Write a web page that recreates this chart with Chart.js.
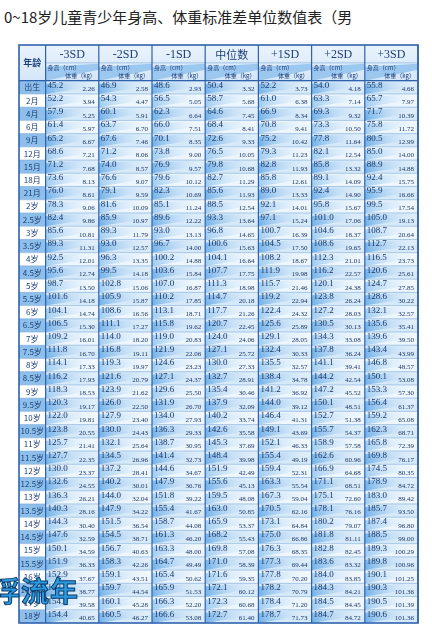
<!DOCTYPE html>
<html>
<head>
<meta charset="utf-8">
<script src="https://cdn.jsdelivr.net/npm/chart.js@4"></script>
<style>
  body { margin:0; background:#fff; width:432px; height:638px; overflow:hidden; position:relative; }
  #title { position:absolute; top:6px; left:4px; font:15px "Noto Sans CJK SC", sans-serif; color:#222; white-space:nowrap; }
  #wrap { position:absolute; left:0; top:0; width:432px; height:638px; }
  #mark { position:absolute; left:-8px; top:570px; font:bold 28px "Noto Sans CJK SC", sans-serif; color:#2a9be0; -webkit-text-stroke:1px #0b3a6a; letter-spacing:1px; }
</style>
</head>
<body>
<div id="title">0~18岁儿童青少年身高、体重标准差单位数值表（男</div>
<div id="wrap"><canvas id="c" width="432" height="638"></canvas></div>
<div id="mark">浮流年</div>
<script>
const ages = ['出生','2月','4月','6月','9月','12月','15月','18月','21月','2岁','2.5岁','3岁','3.5岁','4岁','4.5岁','5岁','5.5岁','6岁','6.5岁','7岁','7.5岁','8岁','8.5岁','9岁','9.5岁','10岁','10.5岁','11岁','11.5岁','12岁','12.5岁','13岁','13.5岁','14岁','14.5岁','15岁','15.5岁','16岁','16.5岁','17岁','18岁'];
const groups = ['-3SD','-2SD','-1SD','中位数','+1SD','+2SD','+3SD'];

const hM3 = [45.2,52.2,57.9,61.4,65.2,68.6,71.2,73.6,76.0,78.3,82.4,85.6,89.3,92.5,95.6,98.7,101.6,104.1,106.5,109.2,111.8,114.1,116.2,118.3,120.3,122.0,123.8,125.7,127.7,130.0,132.6,136.3,140.3,144.3,147.6,150.1,151.9,152.9,153.5,154.0,154.4];
const wM3 = [2.26,3.94,5.25,5.97,6.67,7.21,7.68,8.13,8.61,9.06,9.86,10.81,11.31,12.01,12.74,13.50,14.18,14.74,15.30,16.01,16.70,17.33,17.93,18.53,19.17,19.81,20.55,21.41,22.35,23.37,24.55,26.21,28.16,30.40,32.59,34.59,36.33,37.67,38.77,39.58,40.65];
const hM2 = [46.9,54.3,60.1,63.7,67.6,71.2,74.0,76.6,79.1,81.6,85.9,89.3,93.0,96.3,99.5,102.8,105.9,108.6,111.1,114.0,116.8,119.3,121.6,123.9,126.0,127.9,130.0,132.1,134.5,137.2,140.2,144.0,147.9,151.5,154.5,156.7,158.3,159.1,159.7,160.1,160.5];
const wM2 = [2.58,4.47,5.91,6.70,7.46,8.06,8.57,9.07,9.59,10.09,10.97,11.79,12.57,13.35,14.18,15.06,15.87,16.56,17.27,18.20,19.11,19.97,20.79,21.62,22.50,23.40,24.43,25.64,26.96,28.41,30.01,32.04,34.22,36.54,38.71,40.63,42.26,43.51,44.54,45.28,46.27];
const hM1 = [48.6,56.5,62.3,66.0,70.1,73.8,76.9,79.6,82.3,85.1,89.6,93.0,96.7,100.2,103.6,107.0,110.2,113.1,115.8,119.0,121.9,124.6,127.1,129.6,131.9,134.0,136.3,138.7,141.4,144.6,147.9,151.8,155.4,158.7,161.3,163.3,164.7,165.4,165.9,166.3,166.6];
const wM1 = [2.93,5.05,6.64,7.51,8.35,9.00,9.57,10.12,10.69,11.24,12.22,13.13,14.00,14.88,15.84,16.87,17.85,18.71,19.62,20.83,22.06,23.23,24.37,25.50,26.70,27.93,29.33,30.95,32.73,34.67,36.76,39.22,41.67,44.08,46.20,48.00,49.49,50.62,51.53,52.20,53.08];
const hMed = [50.4,58.7,64.6,68.4,72.6,76.5,79.8,82.7,85.6,88.5,93.3,96.8,100.6,104.1,107.7,111.3,114.7,117.7,120.7,124.0,127.1,130.0,132.7,135.4,137.9,140.2,142.6,145.3,148.4,151.9,155.6,159.5,163.0,165.9,168.2,169.8,171.0,171.6,172.1,172.3,172.7];
const wMed = [3.32,5.68,7.45,8.41,9.33,10.05,10.68,11.29,11.93,12.54,13.64,14.65,15.63,16.64,17.75,18.98,20.18,21.26,22.45,24.06,25.72,27.33,28.91,30.46,32.09,33.74,35.58,37.69,39.98,42.49,45.13,48.08,50.85,53.37,55.43,57.08,58.39,59.35,60.12,60.68,61.40];
const hP1 = [52.2,61.0,66.9,70.8,75.2,79.3,82.8,85.8,89.0,92.1,97.1,100.7,104.5,108.2,111.9,115.7,119.2,122.4,125.6,129.1,132.4,135.5,138.4,141.2,144.0,146.4,149.1,152.1,155.4,159.4,163.3,167.3,170.5,173.1,175.0,176.3,177.3,177.8,178.2,178.4,178.7];
const wP1 = [3.73,6.38,8.34,9.41,10.42,11.23,11.93,12.61,13.33,14.01,15.24,16.39,17.50,18.67,19.98,21.46,22.94,24.32,25.89,28.05,30.33,32.57,34.78,36.92,39.12,41.31,43.69,46.33,49.19,52.31,55.54,59.04,62.16,64.84,66.86,68.35,69.44,70.20,70.79,71.20,71.73];
const hP2 = [54.0,63.3,69.3,73.3,77.8,82.1,85.8,89.1,92.4,95.8,101.0,104.6,108.6,112.3,116.2,120.1,123.8,127.2,130.5,134.3,137.8,141.1,144.2,147.2,150.1,152.7,155.7,158.9,162.6,166.9,171.1,175.1,178.1,180.2,181.8,182.8,183.6,184.0,184.3,184.5,184.7];
const wP2 = [4.18,7.14,9.32,10.50,11.64,12.54,13.32,14.09,14.90,15.67,17.06,18.37,19.65,21.01,22.57,24.38,26.24,28.03,30.13,33.08,36.24,39.41,42.54,45.52,48.51,51.38,54.37,57.58,60.96,64.68,68.51,72.60,76.16,79.07,81.11,82.45,83.32,83.85,84.21,84.45,84.72];
const hP3 = [55.8,65.7,71.7,75.8,80.5,85.0,88.9,92.4,95.9,99.5,105.0,108.7,112.7,116.5,120.6,124.7,128.6,132.1,135.6,139.6,143.4,146.8,150.1,153.3,156.4,159.2,162.3,165.8,169.8,174.5,178.9,183.0,185.7,187.4,188.5,189.3,189.8,190.1,190.3,190.5,190.6];
const wP3 = [4.66,7.97,10.39,11.72,12.99,14.00,14.88,15.75,16.66,17.54,19.13,20.64,22.13,23.73,25.61,27.85,30.22,32.57,35.41,39.50,43.99,48.57,53.08,57.30,61.37,65.08,68.71,72.39,76.17,80.35,84.72,89.42,93.50,96.80,99.00,100.29,100.96,101.25,101.36,101.39,101.36];

const heights = [hM3, hM2, hM1, hMed, hP1, hP2, hP3];
const weights = [wM3, wM2, wM1, wMed, wP1, wP2, wP3];

// column layout in x units: age column 0..0.5, group g spans 0.5+g .. 1.5+g
const AGE_W = 0.5;
const H1 = -2.7, H2 = -1.35; // header rows

const cells = [];
ages.forEach((a, i) => groups.forEach((g, j) => cells.push({ x: AGE_W + j + 0.5, y: i + 0.5, r: i, g: j })));

const BORDER = '#2f62ad';

const tablePlugin = {
    id: 'table',
    afterDatasetsDraw(chart) {
        const ctx = chart.ctx, xs = chart.scales.x, ys = chart.scales.y;
        const px = v => xs.getPixelForValue(v), py = v => ys.getPixelForValue(v);
        const left = px(0), right = px(AGE_W + groups.length);
        ctx.save();

        // header backgrounds
        let hg = ctx.createLinearGradient(0, py(H1), 0, py(0));
        hg.addColorStop(0, '#eaf3fc'); hg.addColorStop(1, '#d3e6f8');
        ctx.fillStyle = hg;
        ctx.fillRect(left, py(H1), right - left, py(0) - py(H1));
        groups.forEach((g, j) => {
            const x0 = px(AGE_W + j), x1 = px(AGE_W + j + 1), y0 = py(H2), y1 = py(0);
            ctx.fillStyle = '#9cc8ef';
            ctx.beginPath(); ctx.moveTo(x0, y0 + 4); ctx.lineTo(x1, y0 + 1); ctx.lineTo(x1, y0 + 7); ctx.lineTo(x0, y1); ctx.closePath(); ctx.fill();
        });

        // data rows
        ages.forEach((a, i) => {
            const y0 = py(i), y1 = py(i + 1);
            ctx.fillStyle = i % 2 === 0 ? '#8dbfea' : '#ffffff';
            ctx.fillRect(left, y0, px(AGE_W) - left, y1 - y0);
            groups.forEach((g, j) => {
                const x0 = px(AGE_W + j), x1 = px(AGE_W + j + 1);
                ctx.fillStyle = i % 2 === 0 ? '#d6e9f9' : '#eef6fd';
                ctx.fillRect(x0, y0, x1 - x0, y1 - y0);
                const gr = ctx.createLinearGradient(x0, y1, x1, y0);
                gr.addColorStop(0, i % 2 === 0 ? '#6fb0e8' : '#9ccbf1');
                gr.addColorStop(1, 'rgba(255,255,255,0.2)');
                ctx.fillStyle = gr;
                ctx.beginPath(); ctx.moveTo(x0, y0 + 3); ctx.lineTo(x1, y0); ctx.lineTo(x1, y0 + 5); ctx.lineTo(x0, y1); ctx.closePath(); ctx.fill();
            });
        });

        // grid lines
        ctx.strokeStyle = '#7aa8d8'; ctx.lineWidth = 0.6;
        ages.forEach((a, i) => { ctx.beginPath(); ctx.moveTo(left, py(i)); ctx.lineTo(right, py(i)); ctx.stroke(); });
        ctx.beginPath(); ctx.moveTo(px(AGE_W), py(H2)); ctx.lineTo(right, py(H2)); ctx.stroke();
        ctx.strokeStyle = BORDER; ctx.lineWidth = 1.2;
        for (let j = 0; j <= groups.length; j++) {
            const x = px(AGE_W + j);
            ctx.beginPath(); ctx.moveTo(x, py(H1)); ctx.lineTo(x, py(ages.length)); ctx.stroke();
        }
        ctx.beginPath(); ctx.moveTo(left, py(0)); ctx.lineTo(right, py(0)); ctx.stroke();
        ctx.lineWidth = 1.6;
        ctx.strokeRect(left, py(H1), right - left, py(ages.length) - py(H1));

        // header text
        ctx.fillStyle = '#1d3f78'; ctx.textBaseline = 'middle';
        ctx.textAlign = 'center';
        ctx.font = 'bold 9px "Noto Sans CJK SC"';
        ctx.fillText('年龄', px(AGE_W / 2), (py(H1) + py(0)) / 2);
        groups.forEach((g, j) => {
            const xc = px(AGE_W + j + 0.5);
            ctx.textAlign = 'center';
            ctx.font = g === '中位数' ? '11px "Noto Sans CJK SC"' : '12px "Liberation Serif"';
            ctx.fillText(g, xc, (py(H1) + py(H2)) / 2 + 1);
            ctx.font = '6px "Noto Sans CJK SC"';
            ctx.textAlign = 'left';
            ctx.fillText('身高（cm）', px(AGE_W + j) + 2, py(H2) + 5);
            ctx.textAlign = 'right';
            ctx.fillText('体重（kg）', px(AGE_W + j + 1) - 3, py(0) - 5);
        });

        // data text
        ages.forEach((a, i) => {
            ctx.textAlign = 'center'; ctx.fillStyle = '#1d3f78';
            ctx.font = '8px "Noto Sans CJK SC"';
            ctx.fillText(a, px(AGE_W / 2), py(i + 0.5));
        });
        chart.data.datasets[0].data.forEach(c => {
            const x0 = px(c.x - 0.5), x1 = px(c.x + 0.5), yc = py(c.y);
            ctx.fillStyle = '#1a3566';
            ctx.textAlign = 'left'; ctx.font = '9px "Liberation Serif"';
            ctx.fillText(heights[c.g][c.r].toFixed(1), x0 + 2, yc - 2);
            ctx.textAlign = 'right'; ctx.font = '7px "Liberation Serif"';
            ctx.fillText(weights[c.g][c.r].toFixed(2), x1 - 4, yc + 2);
        });
        ctx.restore();
    }
};

new Chart(document.getElementById('c'), {
    type: 'scatter',
    data: { datasets: [{ data: cells, pointRadius: 0 }] },
    options: {
        responsive: false, animation: false,
        layout: { padding: { left: 19, right: 14, top: 45, bottom: 15 } },
        plugins: { legend: { display: false }, tooltip: { enabled: false } },
        scales: {
            x: { type: 'linear', min: 0, max: AGE_W + groups.length, display: false },
            y: { type: 'linear', min: H1, max: ages.length, reverse: true, display: false }
        }
    },
    plugins: [tablePlugin]
});
</script>
</body>
</html>
